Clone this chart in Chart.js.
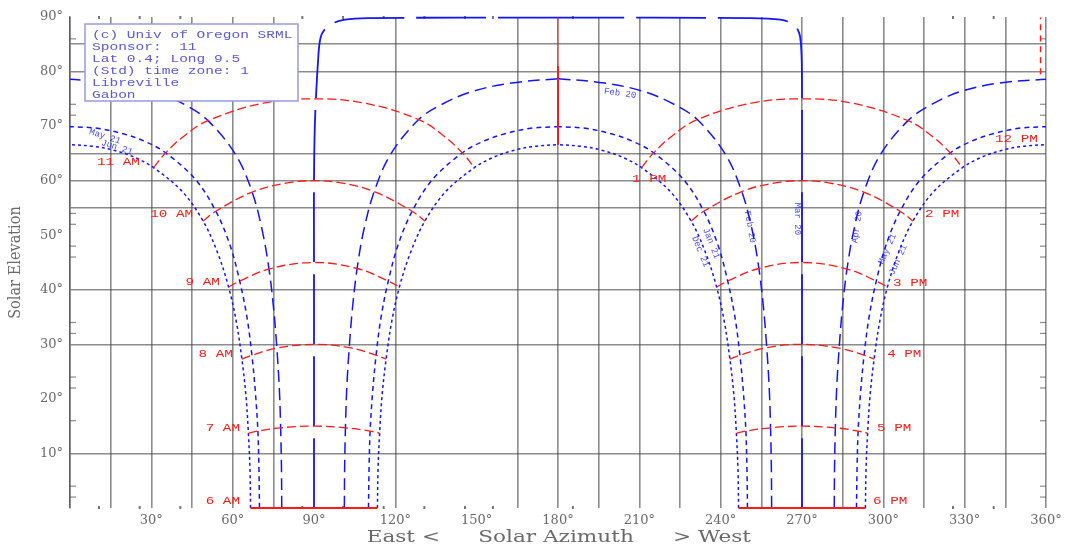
<!DOCTYPE html>
<html>
<head>
<meta charset="utf-8">
<title>Sun path chart — Libreville, Gabon</title>
<script src="https://cdn.jsdelivr.net/npm/chart.js@4.4.0/dist/chart.umd.min.js"></script>
<style>
  html, body { margin: 0; padding: 0; background: #fff; }
  #wrap { width: 1072px; height: 544px; }
</style>
</head>
<body>
<div id="wrap"><canvas id="sun" width="1072" height="544"></canvas></div>
<script>
// ---- Sun paths, [azimuth°, elevation°], morning (Am) and afternoon (Pm) ----
const junAm = [[66.6,0],[66.4,6.9],[65.8,13.7],[64.9,20.6],[63.4,27.3],[61.4,34.0],[58.5,40.5],[54.5,46.7],[49.1,52.6],[41.4,58.0],[30.8,62.4],[24.2,64.2],[16.8,65.5],[8.6,66.3],[0,66.6]];
const junPm = [[293.4,0],[293.6,6.9],[294.2,13.7],[295.1,20.6],[296.6,27.3],[298.6,34.0],[301.5,40.5],[305.5,46.7],[310.9,52.6],[318.6,58.0],[329.2,62.4],[335.8,64.2],[343.2,65.5],[351.4,66.3],[360,66.6]];
const mayAm = [[69.9,0],[69.7,7.0],[69.3,14.1],[68.4,21.1],[67.1,28.0],[65.3,34.9],[62.6,41.6],[59.0,48.2],[53.8,54.4],[46.3,60.2],[35.3,65.1],[28.1,67.1],[19.6,68.6],[10.1,69.6],[0,69.9]];
const mayPm = [[290.1,0],[290.3,7.0],[290.7,14.1],[291.6,21.1],[292.9,28.0],[294.7,34.9],[297.4,41.6],[301.0,48.2],[306.2,54.4],[313.7,60.2],[324.7,65.1],[331.9,67.1],[340.4,68.6],[349.9,69.6],[360,69.9]];
const aprAm = [[78.1,0],[78.0,7.3],[77.7,14.7],[77.2,22.0],[76.3,29.3],[75.1,36.6],[73.4,43.8],[70.9,50.9],[67.2,57.9],[61.2,64.7],[50.9,71.0],[42.8,73.8],[31.8,76.3],[17.3,77.9],[0,78.6]];
const aprPm = [[281.9,0],[282.0,7.3],[282.3,14.7],[282.8,22.0],[283.7,29.3],[284.9,36.6],[286.6,43.8],[289.1,50.9],[292.8,57.9],[298.8,64.7],[309.1,71.0],[317.2,73.8],[328.2,76.3],[342.7,77.9],[360,78.6]];
const marAm = [[90,0],[90,15],[90,30],[90,45],[90,60],[90.3,70],[90.9,77],[91.5,82],[92,85],[93,87],[96,88.6],[101.4,89.5],[110,89.8],[180,89.9]];
const marPm = [[270,0],[270,15],[270,30],[270,45],[270,60],[270,70],[270,77],[269.9,82],[269.6,85],[269,87],[267,88.6],[262,89.5],[250,89.8],[180,89.9]];
const febAm = [[101.2,0],[101.3,7.3],[101.6,14.7],[102.1,22.1],[103.0,29.4],[104.2,36.7],[105.9,43.9],[108.4,51.0],[112.2,58.0],[118.2,64.8],[128.6,71.2],[136.8,73.9],[148.0,76.3],[162.8,77.9],[180,78.7]];
const febPm = [[258.8,0],[258.7,7.3],[258.4,14.7],[257.9,22.1],[257.0,29.4],[255.8,36.7],[254.1,43.9],[251.6,51.0],[247.8,58.0],[241.8,64.8],[231.4,71.2],[223.2,73.9],[212.0,76.3],[197.2,77.9],[180,78.7]];
const janAm = [[110.1,0],[110.3,7.0],[110.7,14.1],[111.6,21.1],[112.9,28.0],[114.7,34.9],[117.4,41.6],[121.0,48.2],[126.2,54.4],[133.7,60.2],[144.7,65.1],[151.9,67.1],[160.4,68.6],[169.9,69.6],[180,69.9]];
const janPm = [[249.9,0],[249.7,7.0],[249.3,14.1],[248.4,21.1],[247.1,28.0],[245.3,34.9],[242.6,41.6],[239.0,48.2],[233.8,54.4],[226.3,60.2],[215.3,65.1],[208.1,67.1],[199.6,68.6],[190.1,69.6],[180,69.9]];
const decAm = [[113.4,0],[113.6,6.9],[114.2,13.7],[115.1,20.6],[116.6,27.3],[118.6,34.0],[121.5,40.5],[125.5,46.7],[130.9,52.6],[138.6,58.0],[149.2,62.4],[155.8,64.2],[163.2,65.5],[171.4,66.3],[180,66.6]];
const decPm = [[246.6,0],[246.4,6.9],[245.8,13.7],[244.9,20.6],[243.4,27.3],[241.4,34.0],[238.5,40.5],[234.5,46.7],[229.1,52.6],[221.4,58.0],[210.8,62.4],[204.2,64.2],[196.8,65.5],[188.6,66.3],[180,66.6]];

// ---- Hour lines (solar time), Jun end ... Dec end ----
const h6am  = [[66.6,0],[90,0],[113.4,0]];
const h7am  = [[65.8,13.7],[69.3,14.1],[77.7,14.7],[90,15.0],[101.6,14.7],[110.7,14.1],[114.2,13.7]];
const h8am  = [[63.4,27.3],[67.1,28.0],[76.3,29.3],[90,30.0],[103.0,29.4],[112.9,28.0],[116.6,27.3]];
const h9am  = [[58.5,40.5],[62.6,41.6],[73.4,43.8],[90,45.0],[105.9,43.9],[117.4,41.6],[121.5,40.5]];
const h10am = [[49.1,52.6],[53.8,54.4],[67.2,57.9],[80.1,59.6],[90,60.0],[99.9,59.6],[112.2,58.0],[126.2,54.4],[130.9,52.6]];
const h11am = [[30.8,62.4],[35.3,65.1],[42.1,68.2],[50.9,71.0],[71.3,74.2],[90,75.0],[108.7,74.2],[128.6,71.2],[137.9,68.2],[144.7,65.1],[149.2,62.4]];
const h1pm  = [[210.8,62.4],[215.3,65.1],[222.1,68.2],[231.4,71.2],[251.3,74.2],[270,75.0],[288.7,74.2],[309.1,71.0],[317.9,68.2],[324.7,65.1],[329.2,62.4]];
const h2pm  = [[229.1,52.6],[233.8,54.4],[247.8,58.0],[260.1,59.6],[270,60.0],[279.9,59.6],[292.8,57.9],[306.2,54.4],[310.9,52.6]];
const h3pm  = [[238.5,40.5],[242.6,41.6],[254.1,43.9],[270,45.0],[286.6,43.8],[297.4,41.6],[301.5,40.5]];
const h4pm  = [[243.4,27.3],[247.1,28.0],[257.0,29.4],[270,30.0],[283.7,29.3],[292.9,28.0],[296.6,27.3]];
const h5pm  = [[245.8,13.7],[249.3,14.1],[258.4,14.7],[270,15.0],[282.3,14.7],[290.7,14.1],[294.2,13.7]];
const h6pm  = [[246.6,0],[270,0],[293.4,0]];
const noonSouthLow  = [[180,66.6],[180,81]];
const noonSouthHigh = [[180,81],[180,89.9]];
const noonNorth     = [[358,79.5],[358,89.9]];

// ---- Hour labels: [text, azimuth, elevation, side] ----
const hourLabels = [
  ['6 AM', 62.7, 1.3, 'right'], ['7 AM', 62.7, 14.6, 'right'], ['8 AM', 60.1, 28.3, 'right'],
  ['9 AM', 55.3, 41.5, 'right'], ['10 AM', 45.4, 53.9, 'right'], ['11 AM', 25.8, 63.4, 'right'],
  ['12 PM', 341.2, 67.6, 'left'], ['1 PM', 207.3, 60.3, 'left'], ['2 PM', 315.4, 53.9, 'left'],
  ['3 PM', 303.6, 41.3, 'left'], ['4 PM', 301.4, 28.3, 'left'], ['5 PM', 297.7, 14.6, 'left'],
  ['6 PM', 296.2, 1.3, 'left']
];
// ---- Date labels along the paths: [text, azimuth, elevation, rotation°] ----
const dateLabels = [
  ['May 21', 12.9, 68.1, 18], ['Jun 21', 17.3, 66.1, 18], ['Feb 20', 202.9, 76.0, 8],
  ['Dec 21', 232.5, 47.0, 68], ['Jan 21', 236.5, 48.5, 68], ['Feb 20', 250.8, 51.5, 80],
  ['Mar 20', 268.2, 53.0, 90], ['Apr 20', 290.3, 51.5, -82], ['May 21', 301.5, 47.5, -66],
  ['Jun 21', 305.5, 45.5, -66]
];

// ---- Axes ----
const azMin = 0, azMax = 360, azStep = 15, azLabelStep = 30;
const elMin = 0, elMax = 90, elStep = 5, elLabelStep = 10;
const azGridShown = [0, 15, 30, 45, 60, 75, 120, 165, 180, 195, 210, 225, 240, 255, 270, 285, 300, 315, 330, 345, 360];
const elGridShown = [10, 30, 40, 55, 60, 65, 80, 85];
const elMinorTicks = [2, 4, 16, 22, 24, 32, 34, 46, 48, 52, 54, 72, 74, 86];
const azMinorDots = [10.7, 25.7, 40.7, 85.7, 100.7, 115.7, 130.7, 145.7, 156, 185.5, 325.7, 340.7];

const infoLines = ['(c) Univ of Oregon SRML', 'Sponsor:  11', 'Lat 0.4; Long 9.5', '(Std) time zone: 1', 'Libreville', 'Gabon'];
const xTitleParts = ['East <', 'Solar Azimuth', '> West'];
const yTitle = 'Solar Elevation';

const BLUE = '#1414ff', RED = '#ff1a1a', GRID = 'rgba(70,70,70,0.62)', AXIS_TEXT = '#6a6a6a';

const toPts = arr => arr.map(p => ({ x: p[0], y: p[1] }));
function pathSet(arr, dash, width) {
  return { data: toPts(arr), showLine: true, borderColor: BLUE, borderWidth: width || 1.5,
           borderDash: dash, pointRadius: 0, tension: 0.35, fill: false, clip: false };
}
function hourSet(arr, dash, width, color) {
  return { data: toPts(arr), showLine: true, borderColor: color || RED, borderWidth: width || 1.3,
           borderDash: dash, pointRadius: 0, tension: 0.4, fill: false, clip: false };
}

const arcDash = [9, 4];
const datasets = [
  hourSet(h6am, [], 2.2), hourSet(h6pm, [], 2.2),
  hourSet(h7am, arcDash), hourSet(h8am, arcDash), hourSet(h9am, arcDash),
  hourSet(h10am, arcDash), hourSet(h11am, arcDash),
  hourSet(h1pm, arcDash), hourSet(h2pm, arcDash), hourSet(h3pm, arcDash),
  hourSet(h4pm, arcDash), hourSet(h5pm, arcDash),
  hourSet(noonSouthLow, [], 2), hourSet(noonSouthHigh, [], 1.5, 'rgba(255,40,40,0.55)'),
  hourSet(noonNorth, [6, 5], 1.5),
  pathSet(junAm, [3, 3]), pathSet(junPm, [3, 3]), pathSet(decAm, [3, 3]), pathSet(decPm, [3, 3]),
  pathSet(mayAm, [5, 4]), pathSet(mayPm, [5, 4]), pathSet(janAm, [5, 4]), pathSet(janPm, [5, 4]),
  pathSet(aprAm, [12, 6]), pathSet(aprPm, [12, 6]), pathSet(febAm, [12, 6]), pathSet(febPm, [12, 6]),
  pathSet(marAm, [70, 12], 1.8), pathSet(marPm, [70, 12], 1.8)
];

function stretchText(ctx, text, x, y, sx, align) {
  ctx.save();
  ctx.translate(x, y);
  ctx.scale(sx, 1);
  ctx.textAlign = align;
  ctx.fillText(text, 0, 0);
  ctx.restore();
}

const decor = {
  id: 'decor',
  beforeDatasetsDraw(chart) {
    const { ctx, chartArea: a, scales: { x, y } } = chart;
    ctx.save();
    ctx.strokeStyle = GRID;
    ctx.lineWidth = 1.2;
    elMinorTicks.forEach(v => {
      const py = y.getPixelForValue(v);
      ctx.beginPath(); ctx.moveTo(a.left, py); ctx.lineTo(a.left + 6, py); ctx.stroke();
      ctx.beginPath(); ctx.moveTo(a.right - 6, py); ctx.lineTo(a.right, py); ctx.stroke();
    });
    ctx.fillStyle = 'rgba(60,60,60,0.7)';
    azMinorDots.forEach(v => {
      const px = x.getPixelForValue(v);
      ctx.fillRect(px - 1, a.top - 1, 2, 3);
      ctx.fillRect(px - 1, a.bottom - 2, 2, 3);
    });
    ctx.restore();
  },
  afterDatasetsDraw(chart) {
    const { ctx, chartArea: a, scales: { x, y } } = chart;
    ctx.save();
    // hour labels
    ctx.fillStyle = RED;
    ctx.font = '11px "Liberation Mono"';
    ctx.textBaseline = 'middle';
    hourLabels.forEach(([t, az, el, side]) => {
      stretchText(ctx, t, x.getPixelForValue(az), y.getPixelForValue(el), 1.3, side);
    });
    // date labels
    ctx.fillStyle = 'rgba(20,20,255,0.8)';
    ctx.font = '9px "Liberation Mono"';
    ctx.textAlign = 'center';
    dateLabels.forEach(([t, az, el, rot]) => {
      ctx.save();
      ctx.translate(x.getPixelForValue(az), y.getPixelForValue(el));
      ctx.rotate(rot * Math.PI / 180);
      ctx.fillText(t, 0, 0);
      ctx.restore();
    });
    // station info box
    const bx = 85, by = 24, bw = 213, bh = 77;
    ctx.fillStyle = '#fff';
    ctx.fillRect(bx, by, bw, bh);
    ctx.strokeStyle = '#9a9ae0';
    ctx.lineWidth = 1.5;
    ctx.strokeRect(bx, by, bw, bh);
    ctx.fillStyle = '#5a5ad2';
    ctx.font = '11px "Liberation Mono"';
    ctx.textBaseline = 'middle';
    infoLines.forEach((t, i) => stretchText(ctx, t, bx + 7, by + 11 + i * 12, 1.32, 'left'));
    // axis titles
    ctx.fillStyle = AXIS_TEXT;
    ctx.font = '16px "DejaVu Serif"';
    ctx.textBaseline = 'alphabetic';
    const cx = (a.left + a.right) / 2;
    stretchText(ctx, xTitleParts[0], cx - 118, 542, 1.35, 'right');
    stretchText(ctx, xTitleParts[1], cx - 2, 542, 1.35, 'center');
    stretchText(ctx, xTitleParts[2], cx + 115, 542, 1.35, 'left');
    ctx.save();
    ctx.font = '14.5px "DejaVu Serif"';
    ctx.translate(20, (a.top + a.bottom) / 2);
    ctx.scale(1.1, 1);
    ctx.rotate(-Math.PI / 2);
    ctx.textAlign = 'center';
    ctx.fillText(yTitle, 0, 0);
    ctx.restore();
    ctx.restore();
  }
};

new Chart(document.getElementById('sun'), {
  type: 'scatter',
  data: { datasets },
  options: {
    responsive: false,
    animation: false,
    events: [],
    layout: { padding: { top: 17, right: 26, left: 0, bottom: 0 } },
    plugins: { legend: { display: false }, tooltip: { enabled: false } },
    scales: {
      x: {
        type: 'linear', min: azMin, max: azMax,
        afterFit(s) { s.height = 36; },
        ticks: {
          stepSize: azStep, autoSkip: false, maxRotation: 0, padding: 5, color: AXIS_TEXT,
          font: { family: 'DejaVu Serif', size: 13 },
          callback: v => (v > 0 && v % azLabelStep === 0) ? v + '°' : ''
        },
        grid: {
          drawTicks: false, lineWidth: 1.6,
          color: c => (c.tick && azGridShown.includes(c.tick.value)) ? GRID : 'rgba(0,0,0,0)'
        },
        border: { display: false }
      },
      y: {
        type: 'linear', min: elMin, max: elMax,
        afterFit(s) { s.width = 70; },
        ticks: {
          stepSize: elStep, autoSkip: false, padding: 7, color: AXIS_TEXT,
          font: { family: 'DejaVu Serif', size: 13 },
          callback: v => (v > 0 && v % elLabelStep === 0) ? v + '°' : ''
        },
        grid: {
          drawTicks: false, lineWidth: 1.6,
          color: c => (c.tick && elGridShown.includes(c.tick.value)) ? GRID : 'rgba(0,0,0,0)'
        },
        border: { display: true, color: GRID, width: 1.6 }
      }
    }
  },
  plugins: [decor]
});
</script>
</body>
</html>
